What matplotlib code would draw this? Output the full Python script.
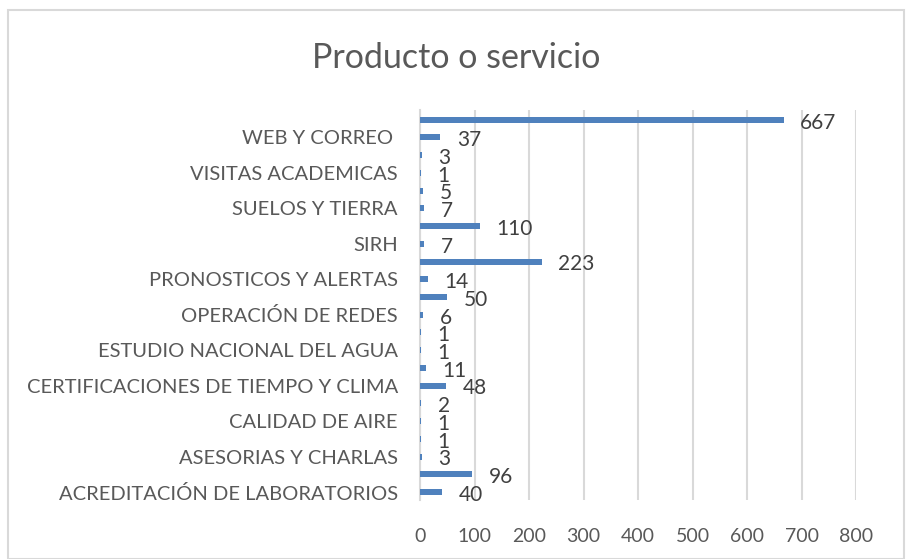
import matplotlib.pyplot as plt
from matplotlib.patches import Rectangle

# categorias de abajo hacia arriba (solo una de cada dos lleva etiqueta visible)
categorias = ['ACREDITACIÓN DE LABORATORIOS', '', 'ASESORIAS Y CHARLAS', '',
              'CALIDAD DE AIRE', '', 'CERTIFICACIONES DE TIEMPO Y CLIMA', '',
              'ESTUDIO NACIONAL DEL AGUA', '', 'OPERACIÓN DE REDES', '',
              'PRONOSTICOS Y ALERTAS', '', 'SIRH', '', 'SUELOS Y TIERRA', '',
              'VISITAS ACADEMICAS', '', 'WEB Y CORREO ', '']
valores = [40, 96, 3, 1, 1, 2, 48, 11, 1, 1, 6, 50, 14, 223, 7, 110, 7, 5, 1, 3, 37, 667]
xticks = [0, 100, 200, 300, 400, 500, 600, 700, 800]

gris = '#595959'
azul = '#4f81bd'
plt.rcParams['font.family'] = ['Lato', 'DejaVu Sans']

fig = plt.figure(figsize=(9.06, 5.59), dpi=100)
ax = fig.add_axes([420 / 906, 1 - 500 / 559, (856 - 420) / 906, 390 / 559])

pos = list(range(len(valores)))
ax.barh(pos, valores, height=0.34, color=azul, zorder=3)
for p, v in zip(pos, valores):
    ax.annotate(str(v), (v, p), xytext=(12, -2), textcoords='offset points',
                ha='left', va='center', fontsize=15, color='#404040', zorder=4)

ax.set_xlim(0, 800)
ax.set_ylim(-0.45, len(valores) - 0.45)
ax.set_xticks(xticks)
ax.set_xticklabels([str(t) for t in xticks])
ax.set_yticks(pos)
ax.set_yticklabels(categorias)
ax.tick_params(axis='both', length=0, labelsize=14, colors=gris)
ax.tick_params(axis='y', labelsize=14.5)
ax.tick_params(axis='x', pad=20)
ax.tick_params(axis='y', pad=16)
ax.grid(axis='x', color='#d9d9d9', linewidth=1.5, zorder=0)
for s in ['top', 'right', 'bottom']:
    ax.spines[s].set_visible(False)
ax.spines['left'].set_color('#d9d9d9')
ax.spines['left'].set_linewidth(1.5)

fig.text(456 / 906, 1 - 58 / 559, 'Producto o servicio', ha='center', va='center',
         fontsize=24.5, color=gris)
fig.patches.append(Rectangle((8 / 906, 0), 1 - 8 / 906 - 0.002, 1 - 10 / 559,
                             transform=fig.transFigure, fill=False,
                             edgecolor='#d9d9d9', linewidth=1.5))

fig.savefig('out.png', dpi=100)
